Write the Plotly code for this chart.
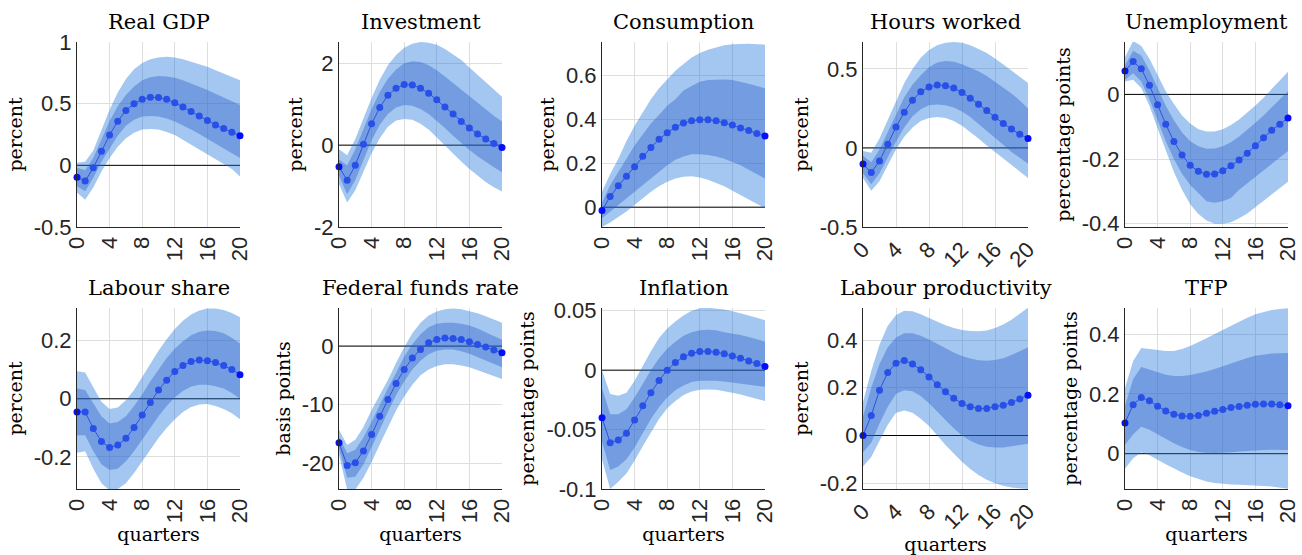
import plotly.graph_objects as go

quarters = list(range(21))

titles = ["Real GDP", "Investment", "Consumption", "Hours worked", "Unemployment",
          "Labour share", "Federal funds rate", "Inflation", "Labour productivity", "TFP"]
ylabels = ["percent", "percent", "percent", "percent", "percentage points",
           "percent", "basis points", "percentage points", "percent", "percentage points"]

# ---- Real GDP
gdp_mean = [-0.096, -0.128, -0.02, 0.115, 0.246, 0.358, 0.445, 0.50, 0.535, 0.552, 0.549, 0.535, 0.508, 0.473, 0.437, 0.399, 0.363, 0.328, 0.298, 0.268, 0.240]
gdp_hi90 = [0.02, 0.03, 0.12, 0.28, 0.45, 0.59, 0.70, 0.78, 0.83, 0.86, 0.875, 0.88, 0.875, 0.86, 0.84, 0.82, 0.80, 0.77, 0.745, 0.72, 0.69]
gdp_hi68 = [-0.02, -0.04, 0.06, 0.21, 0.36, 0.48, 0.57, 0.64, 0.69, 0.715, 0.725, 0.72, 0.71, 0.69, 0.665, 0.64, 0.61, 0.58, 0.55, 0.52, 0.49]
gdp_lo68 = [-0.17, -0.21, -0.10, 0.03, 0.14, 0.24, 0.32, 0.37, 0.395, 0.40, 0.395, 0.38, 0.355, 0.325, 0.29, 0.255, 0.215, 0.18, 0.14, 0.10, 0.06]
gdp_lo90 = [-0.22, -0.28, -0.18, -0.05, 0.06, 0.15, 0.22, 0.265, 0.29, 0.295, 0.29, 0.27, 0.245, 0.21, 0.17, 0.13, 0.09, 0.05, 0.01, -0.03, -0.09]

# ---- Investment
inv_mean = [-0.53, -0.86, -0.49, 0.02, 0.52, 0.92, 1.22, 1.39, 1.48, 1.47, 1.39, 1.27, 1.11, 0.93, 0.76, 0.58, 0.42, 0.27, 0.15, 0.04, -0.06]
inv_hi90 = [-0.1, -0.25, 0.15, 0.65, 1.15, 1.6, 1.95, 2.2, 2.38, 2.48, 2.52, 2.5, 2.45, 2.35, 2.22, 2.08, 1.9, 1.72, 1.55, 1.37, 1.18]
inv_hi68 = [-0.35, -0.5, -0.1, 0.4, 0.88, 1.3, 1.62, 1.85, 2.0, 2.05, 2.03, 1.95, 1.83, 1.68, 1.52, 1.35, 1.18, 1.02, 0.86, 0.72, 0.58]
inv_lo68 = [-0.75, -1.2, -0.85, -0.35, 0.12, 0.5, 0.76, 0.92, 0.98, 0.96, 0.88, 0.76, 0.6, 0.42, 0.23, 0.05, -0.12, -0.27, -0.41, -0.54, -0.66]
inv_lo90 = [-0.95, -1.4, -1.1, -0.65, -0.2, 0.17, 0.45, 0.6, 0.64, 0.62, 0.52, 0.38, 0.2, 0.0, -0.2, -0.4, -0.58, -0.75, -0.9, -1.03, -1.13]

# ---- Consumption
con_mean = [-0.015, 0.048, 0.097, 0.14, 0.184, 0.231, 0.271, 0.308, 0.338, 0.363, 0.382, 0.392, 0.397, 0.397, 0.392, 0.383, 0.373, 0.36, 0.348, 0.335, 0.323]
con_hi90 = [0.07, 0.15, 0.22, 0.3, 0.37, 0.43, 0.49, 0.54, 0.58, 0.62, 0.65, 0.68, 0.70, 0.715, 0.725, 0.735, 0.74, 0.742, 0.742, 0.74, 0.738]
con_hi68 = [0.02, 0.1, 0.16, 0.22, 0.28, 0.33, 0.38, 0.42, 0.46, 0.49, 0.53, 0.55, 0.57, 0.578, 0.58, 0.58, 0.577, 0.57, 0.56, 0.55, 0.54]
con_lo68 = [-0.05, -0.02, 0.01, 0.04, 0.07, 0.1, 0.13, 0.16, 0.19, 0.215, 0.23, 0.24, 0.24, 0.237, 0.23, 0.22, 0.205, 0.19, 0.17, 0.15, 0.13]
con_lo90 = [-0.09, -0.07, -0.045, -0.02, 0.01, 0.04, 0.07, 0.095, 0.115, 0.13, 0.138, 0.14, 0.135, 0.125, 0.11, 0.095, 0.075, 0.055, 0.035, 0.015, -0.005]

# ---- Hours worked
hrs_mean = [-0.102, -0.155, -0.083, 0.023, 0.132, 0.226, 0.302, 0.355, 0.385, 0.398, 0.394, 0.379, 0.351, 0.315, 0.277, 0.236, 0.194, 0.155, 0.119, 0.087, 0.06]
hrs_hi90 = [-0.02, -0.03, 0.06, 0.18, 0.3, 0.41, 0.5, 0.57, 0.62, 0.65, 0.665, 0.67, 0.665, 0.65, 0.625, 0.6, 0.565, 0.53, 0.49, 0.45, 0.41]
hrs_hi68 = [-0.05, -0.09, -0.01, 0.1, 0.22, 0.32, 0.4, 0.46, 0.51, 0.54, 0.55, 0.545, 0.53, 0.51, 0.485, 0.455, 0.42, 0.385, 0.345, 0.3, 0.25]
hrs_lo68 = [-0.16, -0.23, -0.16, -0.06, 0.04, 0.13, 0.2, 0.245, 0.27, 0.275, 0.27, 0.255, 0.23, 0.195, 0.155, 0.11, 0.065, 0.02, -0.025, -0.065, -0.1]
hrs_lo90 = [-0.19, -0.27, -0.21, -0.11, -0.01, 0.07, 0.13, 0.17, 0.19, 0.195, 0.19, 0.17, 0.14, 0.1, 0.06, 0.015, -0.03, -0.07, -0.11, -0.15, -0.19]

# ---- Unemployment
une_mean = [0.0725, 0.1015, 0.079, 0.028, -0.032, -0.092, -0.146, -0.187, -0.219, -0.238, -0.247, -0.246, -0.236, -0.221, -0.203, -0.182, -0.159, -0.134, -0.111, -0.092, -0.073]
une_hi90 = [0.115, 0.165, 0.15, 0.11, 0.06, 0.01, -0.03, -0.065, -0.09, -0.108, -0.115, -0.115, -0.108, -0.095, -0.078, -0.057, -0.034, -0.01, 0.016, 0.043, 0.07]
une_hi68 = [0.09, 0.135, 0.12, 0.075, 0.02, -0.035, -0.08, -0.118, -0.145, -0.16, -0.168, -0.167, -0.16, -0.148, -0.13, -0.11, -0.088, -0.065, -0.04, -0.015, 0.01]
une_lo68 = [0.045, 0.065, 0.04, -0.015, -0.08, -0.145, -0.2, -0.245, -0.28, -0.305, -0.33, -0.335, -0.33, -0.32, -0.295, -0.275, -0.255, -0.235, -0.215, -0.195, -0.175]
une_lo90 = [0.04, 0.045, 0.02, -0.035, -0.105, -0.175, -0.24, -0.295, -0.34, -0.37, -0.39, -0.4, -0.4, -0.395, -0.383, -0.368, -0.35, -0.33, -0.31, -0.29, -0.27]

# ---- Labour share
lsh_mean = [-0.045, -0.045, -0.102, -0.147, -0.167, -0.159, -0.136, -0.099, -0.056, -0.013, 0.03, 0.064, 0.094, 0.114, 0.128, 0.133, 0.131, 0.125, 0.114, 0.101, 0.083]
lsh_hi90 = [0.095, 0.09, 0.04, -0.01, -0.035, -0.03, -0.005, 0.03, 0.075, 0.12, 0.165, 0.205, 0.24, 0.268, 0.29, 0.303, 0.31, 0.31, 0.305, 0.295, 0.28]
lsh_hi68 = [0.035, 0.03, -0.015, -0.06, -0.085, -0.08, -0.06, -0.025, 0.015, 0.06, 0.1, 0.14, 0.172, 0.198, 0.218, 0.23, 0.235, 0.233, 0.225, 0.21, 0.19]
lsh_lo68 = [-0.125, -0.125, -0.18, -0.225, -0.245, -0.24, -0.215, -0.18, -0.14, -0.1, -0.06, -0.025, 0.005, 0.027, 0.042, 0.048, 0.048, 0.043, 0.035, 0.02, 0.0]
lsh_lo90 = [-0.185, -0.18, -0.24, -0.29, -0.315, -0.31, -0.29, -0.255, -0.215, -0.175, -0.135, -0.1, -0.07, -0.045, -0.028, -0.02, -0.018, -0.025, -0.035, -0.05, -0.07]

# ---- Federal funds rate
ffr_mean = [-16.5, -20.4, -19.9, -17.9, -15.1, -12.0, -9.1, -6.4, -4.0, -2.05, -0.57, 0.57, 1.14, 1.36, 1.3, 1.14, 0.74, 0.28, -0.17, -0.68, -1.14]
ffr_hi90 = [-14.3, -16.9, -16.0, -13.8, -10.9, -8.4, -5.8, -2.9, -0.2, 2.2, 4.0, 5.2, 5.9, 6.3, 6.4, 6.3, 6.0, 5.6, 5.1, 4.6, 4.0]
ffr_hi68 = [-15.5, -18.3, -17.7, -15.6, -12.9, -10.0, -7.2, -4.6, -1.8, 0.3, 2.0, 3.2, 3.8, 4.0, 4.0, 3.8, 3.5, 3.0, 2.4, 1.8, 1.1]
ffr_lo68 = [-17.5, -22.5, -22.3, -20.2, -17.4, -14.3, -11.2, -8.4, -6.0, -4.0, -2.5, -1.4, -0.8, -0.6, -0.6, -0.9, -1.3, -1.8, -2.4, -3.0, -3.6]
ffr_lo90 = [-18.5, -24.5, -24.5, -22.5, -19.8, -16.8, -13.8, -11.0, -8.6, -6.6, -5.0, -4.0, -3.4, -3.1, -3.1, -3.3, -3.6, -4.1, -4.6, -5.1, -5.6]

# ---- Inflation
inf_mean = [-0.04, -0.061, -0.0587, -0.053, -0.042, -0.030, -0.019, -0.0087, 0.0, 0.0064, 0.0112, 0.0142, 0.0156, 0.0156, 0.0151, 0.0137, 0.012, 0.010, 0.0078, 0.0056, 0.0031]
inf_hi90 = [0.0, -0.02, -0.0215, -0.019, -0.009, 0.004, 0.016, 0.027, 0.035, 0.041, 0.046, 0.05, 0.052, 0.0525, 0.052, 0.051, 0.0495, 0.048, 0.046, 0.044, 0.042]
inf_hi68 = [-0.015, -0.037, -0.037, -0.033, -0.023, -0.011, 0.0, 0.01, 0.018, 0.024, 0.029, 0.032, 0.0335, 0.034, 0.0335, 0.032, 0.031, 0.0295, 0.028, 0.026, 0.024]
inf_lo68 = [-0.06, -0.084, -0.081, -0.075, -0.065, -0.053, -0.041, -0.031, -0.023, -0.017, -0.013, -0.01, -0.009, -0.0088, -0.009, -0.0095, -0.0103, -0.0112, -0.012, -0.013, -0.014]
inf_lo90 = [-0.075, -0.1, -0.094, -0.087, -0.076, -0.064, -0.052, -0.041, -0.032, -0.026, -0.021, -0.018, -0.0165, -0.0162, -0.0165, -0.0175, -0.019, -0.0205, -0.022, -0.024, -0.026]

# ---- Labour productivity
lpr_mean = [0.0, 0.084, 0.19, 0.264, 0.303, 0.314, 0.30, 0.275, 0.245, 0.213, 0.183, 0.156, 0.134, 0.12, 0.113, 0.113, 0.12, 0.127, 0.138, 0.153, 0.169]
lpr_hi90 = [0.14, 0.27, 0.38, 0.46, 0.505, 0.522, 0.52, 0.508, 0.492, 0.476, 0.462, 0.45, 0.442, 0.438, 0.437, 0.44, 0.45, 0.465, 0.485, 0.51, 0.535]
lpr_hi68 = [0.08, 0.2, 0.3, 0.37, 0.41, 0.428, 0.428, 0.418, 0.402, 0.384, 0.365, 0.348, 0.333, 0.322, 0.315, 0.313, 0.316, 0.324, 0.337, 0.352, 0.37]
lpr_lo68 = [-0.07, -0.03, 0.05, 0.12, 0.175, 0.19, 0.185, 0.165, 0.135, 0.1, 0.065, 0.03, 0.0, -0.022, -0.038, -0.047, -0.05, -0.05, -0.046, -0.04, -0.035]
lpr_lo90 = [-0.13, -0.09, -0.02, 0.045, 0.095, 0.105, 0.095, 0.07, 0.04, 0.0, -0.04, -0.075, -0.11, -0.14, -0.165, -0.185, -0.2, -0.21, -0.218, -0.222, -0.224]

# ---- TFP
tfp_mean = [0.103, 0.164, 0.188, 0.177, 0.159, 0.143, 0.132, 0.126, 0.125, 0.128, 0.135, 0.142, 0.148, 0.154, 0.158, 0.162, 0.165, 0.166, 0.166, 0.164, 0.16]
tfp_hi90 = [0.22, 0.31, 0.353, 0.35, 0.346, 0.343, 0.343, 0.35, 0.36, 0.372, 0.386, 0.4, 0.414, 0.428, 0.441, 0.454, 0.466, 0.474, 0.48, 0.484, 0.486]
tfp_hi68 = [0.16, 0.25, 0.29, 0.282, 0.272, 0.264, 0.26, 0.26, 0.263, 0.268, 0.275, 0.283, 0.292, 0.302, 0.312, 0.32, 0.327, 0.332, 0.335, 0.336, 0.337]
tfp_lo68 = [0.03, 0.065, 0.09, 0.08, 0.065, 0.05, 0.035, 0.022, 0.012, 0.006, 0.003, 0.002, 0.003, 0.005, 0.007, 0.009, 0.011, 0.012, 0.013, 0.013, 0.012]
tfp_lo90 = [-0.05, -0.015, 0.005, -0.005, -0.02, -0.035, -0.05, -0.063, -0.075, -0.085, -0.093, -0.098, -0.101, -0.103, -0.104, -0.105, -0.106, -0.108, -0.11, -0.113, -0.117]

means = [gdp_mean, inv_mean, con_mean, hrs_mean, une_mean, lsh_mean, ffr_mean, inf_mean, lpr_mean, tfp_mean]
hi90 = [gdp_hi90, inv_hi90, con_hi90, hrs_hi90, une_hi90, lsh_hi90, ffr_hi90, inf_hi90, lpr_hi90, tfp_hi90]
hi68 = [gdp_hi68, inv_hi68, con_hi68, hrs_hi68, une_hi68, lsh_hi68, ffr_hi68, inf_hi68, lpr_hi68, tfp_hi68]
lo68 = [gdp_lo68, inv_lo68, con_lo68, hrs_lo68, une_lo68, lsh_lo68, ffr_lo68, inf_lo68, lpr_lo68, tfp_lo68]
lo90 = [gdp_lo90, inv_lo90, con_lo90, hrs_lo90, une_lo90, lsh_lo90, ffr_lo90, inf_lo90, lpr_lo90, tfp_lo90]

y_ranges = [[-0.5, 1.0], [-2.0, 2.52], [-0.09, 0.75], [-0.5, 0.67], [-0.41, 0.162],
            [-0.31, 0.312], [-24.4, 6.5], [-0.1, 0.0523], [-0.224, 0.534], [-0.118, 0.487]]
y_tickvals = [[-0.5, 0, 0.5, 1], [-2, 0, 2], [0, 0.2, 0.4, 0.6], [-0.5, 0, 0.5], [-0.4, -0.2, 0],
              [-0.2, 0, 0.2], [-20, -10, 0], [-0.1, -0.05, 0, 0.05], [-0.2, 0, 0.2, 0.4], [0, 0.2, 0.4]]
y_ticktext = [["-0.5", "0", "0.5", "1"], ["-2", "0", "2"], ["0", "0.2", "0.4", "0.6"], ["-0.5", "0", "0.5"],
              ["-0.4", "-0.2", "0"], ["-0.2", "0", "0.2"], ["-20", "-10", "0"],
              ["-0.1", "-0.05", "0", "0.05"], ["-0.2", "0", "0.2", "0.4"], ["0", "0.2", "0.4"]]
x_tickvals = [0, 4, 8, 12, 16, 20]
x_ticktext = ["0", "4", "8", "12", "16", "20"]

W, H = 1302, 555
col_px = [(77, 240), (339, 502), (602, 765), (863, 1028), (1125, 1288)]
row_px = [(42, 227), (308, 489)]
tick_angles = [-90, -90, -90, -45, -90, -90, -90, -90, -45, -90]

OUTER = "rgba(25,115,217,0.40)"
INNER = "rgba(45,96,202,0.40)"
LINEC = "rgb(45,80,230)"
MID_MK = "rgb(40,80,232)"
END_MK = "rgb(5,15,250)"
TICKFONT = dict(family="Liberation Sans, Arial, sans-serif", size=22, color="rgb(38,38,38)")
SERIF = "DejaVu Serif"

fig = go.Figure()
annotations = []
for i in range(10):
    r, c = divmod(i, 5)
    n = i + 1
    xa = "x" if n == 1 else f"x{n}"
    ya = "y" if n == 1 else f"y{n}"
    fig.add_trace(go.Scatter(x=[quarters[0], quarters[-1]], y=[0, 0], mode="lines",
                             line=dict(color="black", width=1), xaxis=xa, yaxis=ya,
                             hoverinfo="skip", showlegend=False))
    fig.add_trace(go.Scatter(x=quarters + quarters[::-1], y=hi90[i] + lo90[i][::-1],
                             fill="toself", fillcolor=OUTER, line=dict(width=0),
                             mode="lines", xaxis=xa, yaxis=ya, hoverinfo="skip", showlegend=False))
    fig.add_trace(go.Scatter(x=quarters + quarters[::-1], y=hi68[i] + lo68[i][::-1],
                             fill="toself", fillcolor=INNER, line=dict(width=0),
                             mode="lines", xaxis=xa, yaxis=ya, hoverinfo="skip", showlegend=False))
    mk_colors = [END_MK] + [MID_MK] * (len(quarters) - 2) + [END_MK]
    fig.add_trace(go.Scatter(x=quarters, y=means[i], mode="lines+markers",
                             line=dict(color=LINEC, width=1),
                             marker=dict(size=7, color=mk_colors, line=dict(width=0)),
                             cliponaxis=False, xaxis=xa, yaxis=ya, showlegend=False))

    x0, x1 = col_px[c]
    y0, y1 = row_px[r]
    xdom = [x0 / W, x1 / W]
    ydom = [1 - y1 / H, 1 - y0 / H]
    xkey = "xaxis" if n == 1 else f"xaxis{n}"
    ykey = "yaxis" if n == 1 else f"yaxis{n}"
    fig.layout[xkey] = dict(
        domain=xdom, anchor=ya, range=[0, 20], tickvals=x_tickvals, ticktext=x_ticktext,
        tickangle=tick_angles[i], showgrid=True, gridcolor="rgb(222,222,222)", gridwidth=1,
        showline=True, linecolor="rgb(38,38,38)", linewidth=1, zeroline=False,
        ticks="", tickfont=TICKFONT,
        title=dict(text="quarters" if r == 1 else "", font=dict(family=SERIF, size=19, color="black"),
                   standoff=2),
        automargin=False, fixedrange=True,
    )
    fig.layout[ykey] = dict(
        domain=ydom, anchor=xa, range=y_ranges[i], tickvals=y_tickvals[i], ticktext=y_ticktext[i],
        showgrid=True, gridcolor="rgb(222,222,222)", gridwidth=1,
        showline=True, linecolor="rgb(38,38,38)", linewidth=1, zeroline=False,
        ticks="", tickfont=TICKFONT,
        title=dict(text=ylabels[i], font=dict(family=SERIF, size=19, color="black"), standoff=6),
        automargin=False, fixedrange=True,
    )
    annotations.append(dict(text=titles[i], x=(x0 + x1) / 2 / W, y=1 - (y0 - 20) / H,
                            xref="paper", yref="paper", xanchor="center", yanchor="middle",
                            showarrow=False, font=dict(family=SERIF, size=21, color="black")))

fig.update_layout(width=W, height=H, margin=dict(l=0, r=0, t=0, b=0),
                  paper_bgcolor="white", plot_bgcolor="white", annotations=annotations,
                  showlegend=False)
fig.write_html("out.html", config={"displayModeBar": False},
               post_script="document.body.style.margin='0';document.body.style.padding='0';document.body.style.overflow='hidden';")
